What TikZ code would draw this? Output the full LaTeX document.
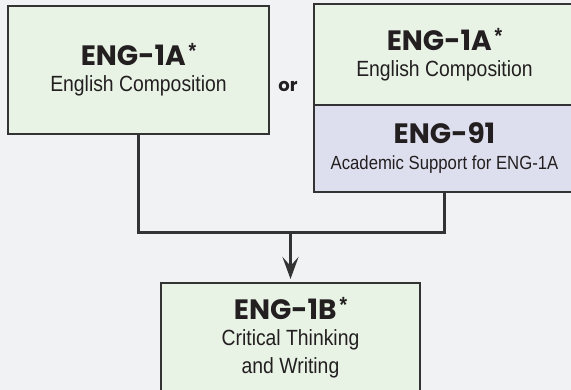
\documentclass[tikz,border=0pt]{standalone}
\usepackage{fontspec}
\setmainfont{Liberation Sans}[FakeStretch=0.88]
\newfontfamily\headfont{Poppins}
\usetikzlibrary{arrows.meta}
\definecolor{bg}{HTML}{F1F2F4}
\definecolor{greenbox}{HTML}{E8F3E6}
\definecolor{lilacbox}{HTML}{DEDFEE}
\definecolor{edge}{HTML}{333333}
\definecolor{ink}{HTML}{231F20}
\newcommand{\code}[2][]{{\headfont\bfseries\fontsize{28}{28}\selectfont #2}#1\\[-2pt]}
\newcommand{\reqmark}{\hspace{3pt}\raisebox{7pt}{\bfseries\fontsize{22}{22}\selectfont *}}
\tikzset{
 course/.style={draw=edge,line width=2pt,fill=greenbox,text=ink,align=center,inner sep=0pt,
   font=\fontsize{22}{28}\selectfont},
 support/.style={course,fill=lilacbox},
 link/.style={draw=edge,line width=3pt}
}
\begin{document}
\begin{tikzpicture}[x=1pt,y=1pt]
 \useasboundingbox[fill=bg] (0,0) rectangle (571,390);

 \node[course,minimum width=261pt,minimum height=128pt] (eng1a) at (138.5,320)
   {\code[\reqmark]{ENG-1A}English Composition};
 \node[course,minimum width=261pt,minimum height=101pt] (eng1b) at (444.5,335.5)
   {\code[\reqmark]{ENG-1A}English Composition};
 \node[support,minimum width=261pt,minimum height=87pt] (eng91) at (444.5,241.5)
   {\code{ENG-91}{\fontsize{19}{24}\selectfont Academic Support for ENG-1A}};
 \node[course,minimum width=259pt,minimum height=109pt] (eng1bb) at (290.5,52.5)
   {\code[\reqmark]{ENG-1B}Critical Thinking\\and Writing};

 \node[text=ink,font=\headfont\bfseries\fontsize{18}{18}\selectfont] (or) at (288,304) {or};

 \coordinate (join) at (290.5,157);
 \draw[link] (eng1a.south) |- (join) -| (eng91.south);
 \draw[link,-{Stealth[length=22pt,width=16pt,inset=9pt]},shorten >=3pt] (join) -- (eng1bb.north);
\end{tikzpicture}
\end{document}
